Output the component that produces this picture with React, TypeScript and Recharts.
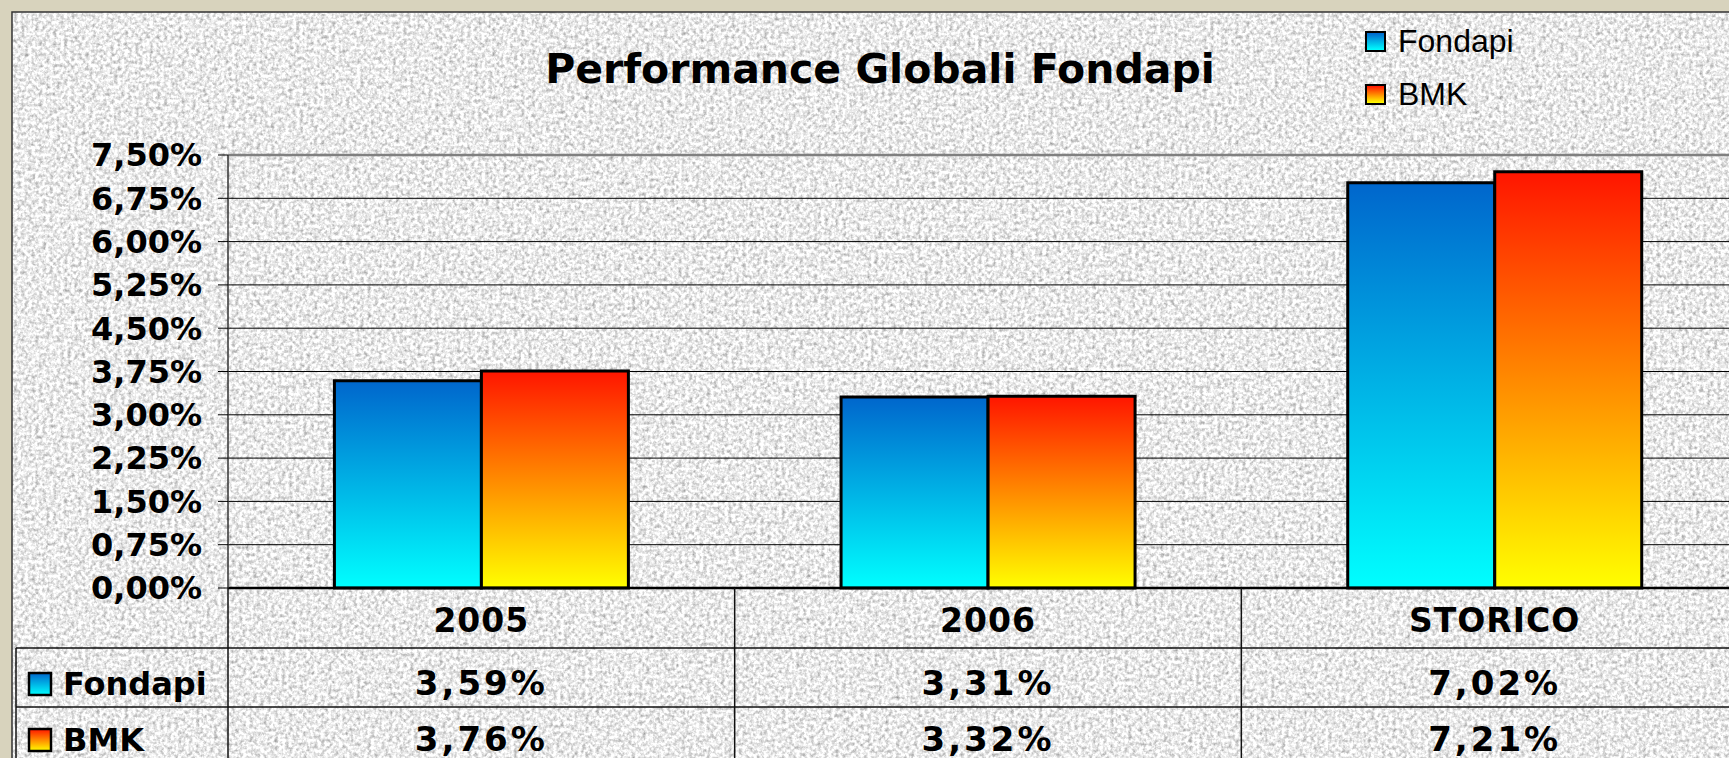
import React from 'react';
import { BarChart, Bar, XAxis, YAxis, CartesianGrid, Legend, ReferenceLine } from 'recharts';

// valori
const categories = ['2005', '2006', 'STORICO'];
const fondapi = [3.59, 3.31, 7.02];
const bmk = [3.76, 3.32, 7.21];
const yTicks = [0, 0.75, 1.5, 2.25, 3, 3.75, 4.5, 5.25, 6, 6.75, 7.5];

const series = [
    { key: 'fondapi', name: 'Fondapi', values: fondapi, grad: 'gradFondapi', css: 'linear-gradient(#0066cc, #00ffff)' },
    { key: 'bmk', name: 'BMK', values: bmk, grad: 'gradBmk', css: 'linear-gradient(#ff1500, #ffff00)' },
];

const data = categories.map((c, i) => ({ name: c, fondapi: fondapi[i], bmk: bmk[i] }));

const W = 1800;
const H = 800;
const margin = { top: 155, right: 52, bottom: 32, left: 0 };
const Y_W = 228;
const X_H = 180;
const BOLD = '"DejaVu Sans", Verdana, sans-serif';
const LINE = '#111';

const pct = (v: number) => v.toFixed(2).replace('.', ',') + '%';

// tabella dati sotto l'asse x, una colonna per categoria
const TableTick = (props: any) => {
    const { x, y, payload } = props;
    const i = props.index ?? payload.index;
    const band = (W - margin.left - margin.right - Y_W) / categories.length;
    const half = payload.offset > 0 ? payload.offset : band / 2;
    const left = x - half;
    const right = x + half;
    const rows = [y + 60, y + 119, y + 178];

    return (
        <g>
            {i === 0 && (
                <g>
                    <line x1={left} x2={left} y1={y} y2={y + 200} stroke={LINE} strokeWidth={1.5} />
                    <line x1={16} x2={16} y1={y + 60} y2={y + 200} stroke={LINE} strokeWidth={1.5} />
                    {rows.map((ry) => (
                        <line key={ry} x1={16} x2={left} y1={ry} y2={ry} stroke={LINE} strokeWidth={1.5} />
                    ))}
                    {series.map((s, k) => (
                        <g key={s.key}>
                            <rect x={29} y={y + 85 + 56 * k} width={22} height={22} fill={`url(#${s.grad})`} stroke="#000" strokeWidth={2.5} />
                            <text x={63} y={y + 107 + 56 * k} fontFamily={BOLD} fontWeight="bold" fontSize={32} fill="#000">
                                {s.name}
                            </text>
                        </g>
                    ))}
                </g>
            )}
            <line x1={right} x2={right} y1={y} y2={y + 200} stroke={LINE} strokeWidth={1.5} />
            {rows.map((ry) => (
                <line key={ry} x1={left} x2={right} y1={ry} y2={ry} stroke={LINE} strokeWidth={1.5} />
            ))}
            <text x={x} y={y + 44} textAnchor="middle" fontFamily={BOLD} fontWeight="bold" fontSize={33} letterSpacing={1} fill="#000">
                {payload.value}
            </text>
            {series.map((s, k) => (
                <text key={s.key} x={x} y={y + 107 + 56 * k} textAnchor="middle" fontFamily={BOLD} fontWeight="bold" fontSize={34} letterSpacing={3} fill="#000">
                    {pct(s.values[i])}
                </text>
            ))}
        </g>
    );
};

const LegendBox = () => (
    <div style={{ fontFamily: '"Liberation Sans", Arial, sans-serif', fontSize: 32, color: '#000' }}>
        {series.map((s) => (
            <div key={s.key} style={{ display: 'flex', alignItems: 'center', height: 53 }}>
                <span style={{ width: 17, height: 17, border: '2px solid #000', background: s.css, marginRight: 12, flexShrink: 0 }} />
                <span>{s.name}</span>
            </div>
        ))}
    </div>
);

const App = () => {
    return (
        <div style={{ position: 'absolute', left: 0, top: 0, width: 1729, height: 758, overflow: 'hidden', background: '#d8d3bd' }}>
            {/* sfondo granito + cornice + titolo */}
            <svg width={1729} height={758} style={{ position: 'absolute', left: 0, top: 0 }}>
                <defs>
                    <filter id="grain" x="0" y="0" width="100%" height="100%" colorInterpolationFilters="sRGB">
                        <feTurbulence type="fractalNoise" baseFrequency="0.28" numOctaves="3" seed="7" />
                        <feColorMatrix type="saturate" values="0" />
                        <feComponentTransfer>
                            <feFuncR type="linear" slope="0.9" intercept="0.47" />
                            <feFuncG type="linear" slope="0.9" intercept="0.47" />
                            <feFuncB type="linear" slope="0.9" intercept="0.47" />
                            <feFuncA type="linear" slope="0" intercept="1" />
                        </feComponentTransfer>
                    </filter>
                    <linearGradient id="gradFondapi" x1="0" y1="0" x2="0" y2="1">
                        <stop offset="0%" stopColor="#0066cc" />
                        <stop offset="100%" stopColor="#00ffff" />
                    </linearGradient>
                    <linearGradient id="gradBmk" x1="0" y1="0" x2="0" y2="1">
                        <stop offset="0%" stopColor="#ff1500" />
                        <stop offset="100%" stopColor="#ffff00" />
                    </linearGradient>
                </defs>
                <rect x={12} y={12} width={1740} height={780} fill="#eee" filter="url(#grain)" />
                <rect x={12} y={12} width={1740} height={780} fill="none" stroke="#333" strokeWidth={1.5} />
                <text x={880} y={83} textAnchor="middle" fontFamily={BOLD} fontWeight="bold" fontSize={41} fill="#000">
                    Performance Globali Fondapi
                </text>
            </svg>

            <div style={{ position: 'absolute', left: 0, top: 0 }}>
                <BarChart width={W} height={H} data={data} margin={margin} barCategoryGap="21%" barGap={0}>
                    <CartesianGrid vertical={false} stroke="#000" strokeWidth={1} />
                    <XAxis
                        dataKey="name"
                        height={X_H}
                        interval={0}
                        tickSize={0}
                        tickMargin={0}
                        tickLine={false}
                        axisLine={{ stroke: '#000', strokeWidth: 2.5 }}
                        tick={TableTick}
                    />
                    <YAxis
                        width={Y_W}
                        domain={[0, 7.5]}
                        ticks={yTicks}
                        interval={0}
                        tickFormatter={pct}
                        tickSize={10}
                        tickMargin={16}
                        tickLine={{ stroke: '#000' }}
                        axisLine={{ stroke: '#333', strokeWidth: 1.5 }}
                        tick={{ fill: '#000', fontSize: 32, fontWeight: 'bold', fontFamily: BOLD }}
                    />
                    <ReferenceLine y={7.5} stroke="#808080" strokeWidth={2.5} />
                    <Legend
                        layout="vertical"
                        align="center"
                        verticalAlign="middle"
                        content={() => <LegendBox />}
                        wrapperStyle={{ left: 1365, top: 15, width: 'auto', height: 'auto' }}
                    />
                    {series.map((s) => (
                        <Bar
                            key={s.key}
                            dataKey={s.key}
                            name={s.name}
                            fill={`url(#${s.grad})`}
                            stroke="#000"
                            strokeWidth={3}
                            isAnimationActive={false}
                        />
                    ))}
                </BarChart>
            </div>
        </div>
    );
};

export default App;
